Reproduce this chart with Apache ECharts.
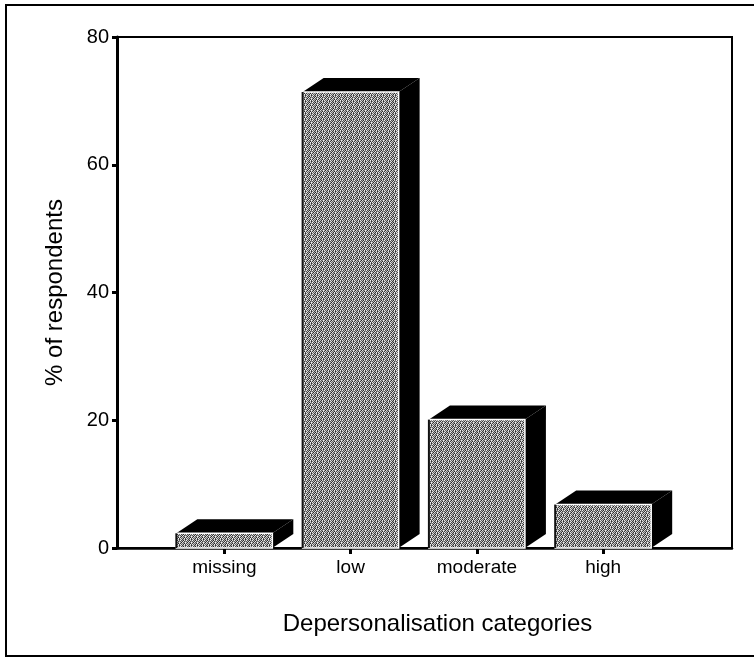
<!DOCTYPE html>
<html>
<head>
<meta charset="utf-8">
<script src="https://cdn.jsdelivr.net/npm/echarts@6/dist/echarts.min.js"></script>
<style>
  html, body { margin: 0; padding: 0; background: #fff; }
  #chart { width: 754px; height: 659px; }
</style>
</head>
<body>
<div id="chart"></div>
<script>
// Depersonalisation categories and share of respondents (%)
const categories = ['missing', 'low', 'moderate', 'high'];
const percentages = [2.3, 71.4, 20.1, 6.8];
const yTicks = [0, 20, 40, 60, 80];

// Stippled grey texture for the bar fronts
function makeStipple() {
  const c = document.createElement('canvas');
  c.width = 6; c.height = 6;
  const ctx = c.getContext('2d');
  const tones = [
    '#f4f4f4', '#4a4a4a', '#a8a8a8', '#262626', '#d8d8d8', '#6a6a6a',
    '#5a5a5a', '#c0c0c0', '#343434', '#e8e8e8', '#404040', '#989898',
    '#b4b4b4', '#222222', '#e0e0e0', '#565656', '#8a8a8a', '#f0f0f0',
    '#3c3c3c', '#cccccc', '#707070', '#acacac', '#282828', '#d4d4d4',
    '#e6e6e6', '#606060', '#bababa', '#303030', '#f2f2f2', '#4e4e4e',
    '#848484', '#dcdcdc', '#3e3e3e', '#a0a0a0', '#c8c8c8', '#2c2c2c'
  ];
  for (let i = 0; i < 36; i++) {
    ctx.fillStyle = tones[i];
    ctx.fillRect(i % 6, Math.floor(i / 6), 1, 1);
  }
  return c;
}
const stipple = makeStipple();

const DEPTH_X = 21;
const DEPTH_Y = 14;
const HALF_W = 48;

function renderBar(params, api) {
  const base = api.coord([api.value(0), 0]);
  const top = api.coord([api.value(0), api.value(1)]);
  const x0 = base[0] - HALF_W, x1 = base[0] + HALF_W;
  const yb = base[1], yt = top[1];
  return {
    type: 'group',
    children: [
      {
        type: 'polygon',
        shape: { points: [[x1, yt], [x1 + DEPTH_X, yt - DEPTH_Y], [x1 + DEPTH_X, yb - DEPTH_Y], [x1, yb]] },
        style: { fill: '#000' }
      },
      {
        type: 'polygon',
        shape: { points: [[x0, yt], [x0 + DEPTH_X, yt - DEPTH_Y], [x1 + DEPTH_X, yt - DEPTH_Y], [x1, yt]] },
        style: { fill: '#000' }
      },
      {
        type: 'rect',
        shape: { x: x0, y: yt, width: x1 - x0, height: yb - yt },
        style: { fill: { image: stipple, repeat: 'repeat' }, stroke: '#fff', lineWidth: 1.5 }
      },
      {
        type: 'line',
        shape: { x1: x0, y1: yt, x2: x0, y2: yb },
        style: { stroke: '#111', lineWidth: 2 }
      }
    ]
  };
}

const chart = echarts.init(document.getElementById('chart'), null, { renderer: 'canvas' });
const font = "'Liberation Sans', Arial, sans-serif";

chart.setOption({
  animation: false,
  backgroundColor: '#fff',
  graphic: [
    {
      type: 'rect',
      shape: { x: 6, y: 5, width: 780, height: 651 },
      style: { fill: 'none', stroke: '#000', lineWidth: 2 },
      silent: true
    }
  ],
  grid: {
    left: 117, top: 37, right: 22, bottom: 111,
    show: true, borderColor: '#000', borderWidth: 2, backgroundColor: 'transparent'
  },
  xAxis: {
    type: 'value',
    min: 0.15,
    max: 5.02,
    name: 'Depersonalisation categories',
    nameLocation: 'middle',
    nameGap: 64,
    nameTextStyle: { fontSize: 24, color: '#000', fontFamily: font, padding: [0, 0, 0, 26] },
    axisLine: { show: true, lineStyle: { color: '#000', width: 2.5 } },
    axisTick: { show: true, customValues: [1, 2, 3, 4], length: 6, lineStyle: { color: '#000', width: 3 } },
    axisLabel: {
      customValues: [1, 2, 3, 4],
      formatter: v => categories[Math.round(v) - 1],
      fontSize: 19, color: '#000', fontFamily: font, margin: 10
    },
    splitLine: { show: false }
  },
  yAxis: {
    type: 'value',
    min: 0,
    max: 80,
    interval: 20,
    name: '% of respondents',
    nameLocation: 'middle',
    nameGap: 50,
    nameTextStyle: { fontSize: 24, color: '#000', fontFamily: font },
    axisLine: { show: true, lineStyle: { color: '#000', width: 3 } },
    axisTick: { show: true, length: 5, lineStyle: { color: '#000', width: 3 } },
    axisLabel: {
      formatter: v => (yTicks.indexOf(v) >= 0 ? String(v) : ''),
      fontSize: 20, color: '#000', fontFamily: font, margin: 8
    },
    splitLine: { show: false }
  },
  series: [
    {
      type: 'custom',
      renderItem: renderBar,
      data: categories.map((c, i) => [i + 1, percentages[i]]),
      encode: { x: 0, y: 1 }
    }
  ]
});
</script>
</body>
</html>
